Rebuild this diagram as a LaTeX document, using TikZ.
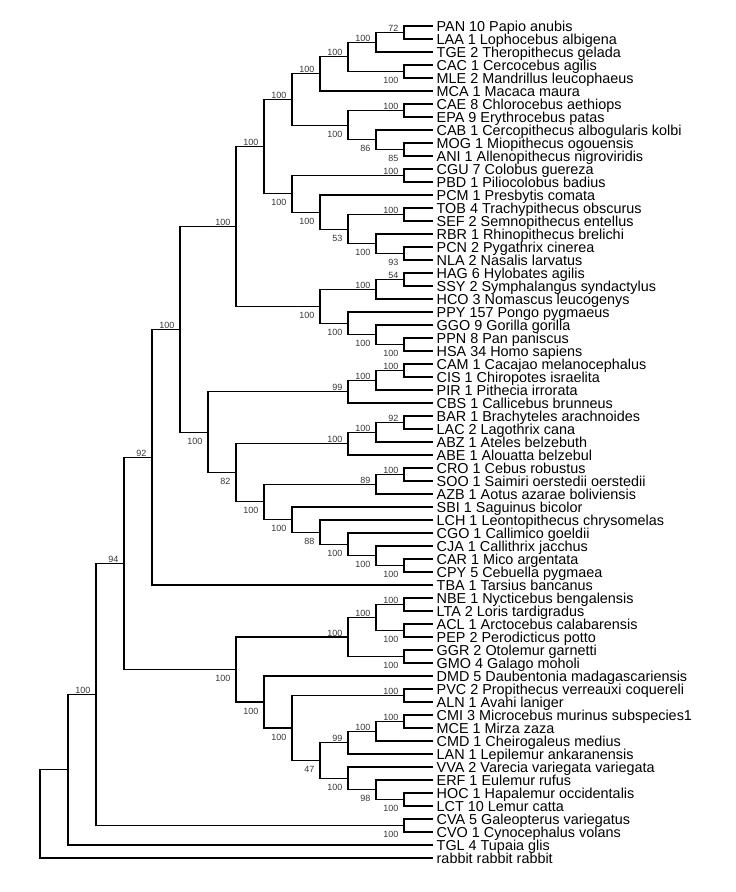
\documentclass[tikz,border=0pt]{standalone}
\usepackage{fontspec}
\setmainfont{Liberation Sans}
\begin{document}
\begin{tikzpicture}[x=1pt,y=-1pt,
  edge/.style={draw=black,line width=1.05pt},
  leaf/.style={anchor=west,inner xsep=4pt,inner ysep=0pt,text height=10.3pt,text depth=0pt,
    font=\fontsize{14.4}{14.4}\selectfont,text=black},
  bs/.style={inner sep=0pt,anchor=base east,font=\fontsize{9}{9}\selectfont,text=black!78},
  bsup/.style={xshift=-5.5pt,yshift=1pt},
  bsdn/.style={xshift=-5.5pt,yshift=-12pt}]
\fill[white] (0,0) rectangle (736,892);
\useasboundingbox (0,0) rectangle (736,892);
% leaves
\foreach \n/\k/\t in {
 PAN/1/PAN 10 Papio anubis, LAA/2/LAA 1 Lophocebus albigena, TGE/3/TGE 2 Theropithecus gelada,
 CAC/4/CAC 1 Cercocebus agilis, MLE/5/MLE 2 Mandrillus leucophaeus, MCA/6/MCA 1 Macaca maura,
 CAE/7/CAE 8 Chlorocebus aethiops, EPA/8/EPA 9 Erythrocebus patas,
 CAB/9/CAB 1 Cercopithecus albogularis kolbi, MOG/10/MOG 1 Miopithecus ogouensis,
 ANI/11/ANI 1 Allenopithecus nigroviridis, CGU/12/CGU 7 Colobus guereza,
 PBD/13/PBD 1 Piliocolobus badius, PCM/14/PCM 1 Presbytis comata,
 TOB/15/TOB 4 Trachypithecus obscurus, SEF/16/SEF 2 Semnopithecus entellus,
 RBR/17/RBR 1 Rhinopithecus brelichi, PCN/18/PCN 2 Pygathrix cinerea,
 NLA/19/NLA 2 Nasalis larvatus, HAG/20/HAG 6 Hylobates agilis,
 SSY/21/SSY 2 Symphalangus syndactylus, HCO/22/HCO 3 Nomascus leucogenys,
 PPY/23/PPY 157 Pongo pygmaeus, GGO/24/GGO 9 Gorilla gorilla,
 PPN/25/PPN 8 Pan paniscus, HSA/26/HSA 34 Homo sapiens,
 CAM/27/CAM 1 Cacajao melanocephalus, CIS/28/CIS 1 Chiropotes israelita,
 PIR/29/PIR 1 Pithecia irrorata, CBS/30/CBS 1 Callicebus brunneus,
 BAR/31/BAR 1 Brachyteles arachnoides, LAC/32/LAC 2 Lagothrix cana,
 ABZ/33/ABZ 1 Ateles belzebuth, ABE/34/ABE 1 Alouatta belzebul,
 CRO/35/CRO 1 Cebus robustus, SOO/36/SOO 1 Saimiri oerstedii oerstedii,
 AZB/37/AZB 1 Aotus azarae boliviensis, SBI/38/SBI 1 Saguinus bicolor,
 LCH/39/LCH 1 Leontopithecus chrysomelas, CGO/40/CGO 1 Callimico goeldii,
 CJA/41/CJA 1 Callithrix jacchus, CAR/42/CAR 1 Mico argentata,
 CPY/43/CPY 5 Cebuella pygmaea, TBA/44/TBA 1 Tarsius bancanus,
 NBE/45/NBE 1 Nycticebus bengalensis, LTA/46/LTA 2 Loris tardigradus,
 ACL/47/ACL 1 Arctocebus calabarensis, PEP/48/PEP 2 Perodicticus potto,
 GGR/49/GGR 2 Otolemur garnetti, GMO/50/GMO 4 Galago moholi,
 DMD/51/DMD 5 Daubentonia madagascariensis, PVC/52/PVC 2 Propithecus verreauxi coquereli,
 ALN/53/ALN 1 Avahi laniger, CMI/54/CMI 3 Microcebus murinus subspecies1,
 MCE/55/MCE 1 Mirza zaza, CMD/56/CMD 1 Cheirogaleus medius,
 LAN/57/LAN 1 Lepilemur ankaranensis, VVA/58/VVA 2 Varecia variegata variegata,
 ERF/59/ERF 1 Eulemur rufus, HOC/60/HOC 1 Hapalemur occidentalis,
 LCT/61/LCT 10 Lemur catta, CVA/62/CVA 5 Galeopterus variegatus,
 CVO/63/CVO 1 Cynocephalus volans, TGL/64/TGL 4 Tupaia glis,
 rab/65/rabbit rabbit rabbit}
 \node[leaf] (\n) at (432.5,{13*\k+13}) {\t};
% internal nodes
\foreach \n/\x/\k in {
 A1/404/1.5, A2/376/2.25, A3/404/4.5, A4/348/3.375, A5/320/4.6875,
 B1/404/7.5, B2/404/10.5, B3/376/9.75, B4/348/8.625, C1/292/6.65625,
 D1/404/12.5, D2/404/15.5, D3/404/18.5, D4/376/17.75, D5/348/16.625, D6/320/15.3125, D7/292/13.90625,
 E1/264/10.28125,
 H1/404/20.5, H2/376/21.25, H3/404/25.5, H4/376/24.75, H5/348/23.875, H6/320/22.5625,
 K1/236/16.421875,
 P1/404/27.5, P2/376/28.25, P3/348/29.125,
 T1/404/31.5, T2/376/32.25, T3/348/33.125,
 Q1/404/35.5, Q2/376/36.25,
 R1/404/42.5, R2/376/41.75, R3/348/40.875, R4/320/39.9375, R5/292/38.96875, R6/264/37.609375,
 S1/236/35.3671875, S2/208/32.24609375, U1/180/24.333984375, U2/152/34.1669921875,
 L1/404/45.5, L2/404/47.5, L3/376/46.5, L4/404/49.5, L5/348/48,
 M1/404/52.5, M2/404/54.5, M3/376/55.25, M4/348/56.125, M5/404/60.5, M6/376/59.75,
 M7/348/58.875, M8/320/57.5, M9/292/55, M10/264/53,
 V1/236/50.5, V2/124/42.33349609375, W1/404/62.5, W2/96/52.416748046875,
 W3/68/58.2083740234375, ROOT/40/61.60418701171875}
 \coordinate (\n) at (\x,{13*\k+13});
% branches
\foreach \p/\a/\b in {
 A1/PAN/LAA, A2/A1/TGE, A3/CAC/MLE, A4/A2/A3, A5/A4/MCA,
 B1/CAE/EPA, B2/MOG/ANI, B3/CAB/B2, B4/B1/B3, C1/A5/B4,
 D1/CGU/PBD, D2/TOB/SEF, D3/PCN/NLA, D4/RBR/D3, D5/D2/D4, D6/PCM/D5, D7/D1/D6,
 E1/C1/D7,
 H1/HAG/SSY, H2/H1/HCO, H3/PPN/HSA, H4/GGO/H3, H5/PPY/H4, H6/H2/H5,
 K1/E1/H6,
 P1/CAM/CIS, P2/P1/PIR, P3/P2/CBS,
 T1/BAR/LAC, T2/T1/ABZ, T3/T2/ABE,
 Q1/CRO/SOO, Q2/Q1/AZB,
 R1/CAR/CPY, R2/CJA/R1, R3/CGO/R2, R4/LCH/R3, R5/SBI/R4, R6/Q2/R5,
 S1/T3/R6, S2/P3/S1, U1/K1/S2, U2/U1/TBA,
 L1/NBE/LTA, L2/ACL/PEP, L3/L1/L2, L4/GGR/GMO, L5/L3/L4,
 M1/PVC/ALN, M2/CMI/MCE, M3/M2/CMD, M4/M3/LAN, M5/HOC/LCT, M6/ERF/M5,
 M7/VVA/M6, M8/M4/M7, M9/M1/M8, M10/DMD/M9,
 V1/L5/M10, V2/U2/V1, W1/CVA/CVO, W2/V2/W1, W3/W2/TGL, ROOT/W3/rab}
 {\draw[edge] (\p) |- (\a); \draw[edge] (\p) |- (\b);}
% support values
\foreach \n/\t/\s in {
 A1/72/up, A2/100/up, A3/100/dn, A4/100/up, A5/100/up,
 B1/100/up, B2/85/dn, B3/86/dn, B4/100/dn, C1/100/up,
 D1/100/up, D2/100/up, D3/93/dn, D4/100/dn, D5/53/dn, D6/100/dn, D7/100/dn,
 E1/100/up,
 H1/54/up, H2/100/up, H3/100/dn, H4/100/dn, H5/100/dn, H6/100/dn,
 K1/100/up,
 P1/100/up, P2/100/up, P3/99/up,
 T1/92/up, T2/100/up, T3/100/up,
 Q1/100/up, Q2/89/up,
 R1/100/dn, R2/100/dn, R3/100/dn, R4/88/dn, R5/100/dn, R6/100/dn,
 S1/82/dn, S2/100/dn, U1/100/up, U2/92/up,
 L1/100/up, L2/100/dn, L3/100/up, L4/100/dn, L5/100/up,
 M1/100/up, M2/100/up, M3/100/up, M4/99/up, M5/100/dn, M6/98/dn,
 M7/100/dn, M8/47/dn, M9/100/dn, M10/100/dn,
 V1/100/dn, V2/94/up, W1/100/dn, W2/100/up}
 \node[bs,bs\s] (l\n) at (\n) {\t};
\end{tikzpicture}
\end{document}
